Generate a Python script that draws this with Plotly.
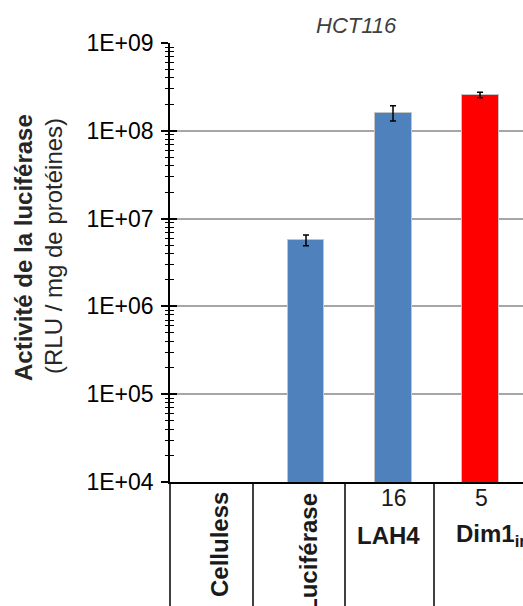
import plotly.graph_objects as go

# ---- data ----
categories = ["Celluless", "Luciférase", "LAH4", "Dim1<sub>in</sub>"]
values = [None, 5.7e6, 1.61e8, 2.56e8]
errors = [0, 0.8e6, 0.32e8, 0.18e8]
bar_colors = ["#4F81BD", "#4F81BD", "#4F81BD", "#FF0000"]
ratio_labels = ["", "", "16", "5"]
tick_vals = [1e4, 1e5, 1e6, 1e7, 1e8, 1e9]
tick_text = ["1E+04", "1E+05", "1E+06", "1E+07", "1E+08", "1E+09"]
minor_vals = [k * 10 ** e for e in range(4, 9) for k in range(2, 10)]

W, H = 523, 606
L, R, T, B = 170, 0, 43, 124
PW, PH = W - L - R, H - T - B
XR = [-0.563, 3.494]
FONT = "Liberation Sans, Arial, sans-serif"
TXT = "#1a1a1a"

def px2paper_x(px):
    return (px - L) / PW

def px2paper_y(py):
    return (H - B - py) / PH

xs = list(range(len(categories)))

fig = go.Figure()
fig.add_trace(go.Bar(
    x=xs, y=values, width=0.425,
    marker=dict(color=bar_colors, line=dict(color="#C4C4C4", width=1)),
    error_y=dict(type="data", array=errors, visible=True, color="black",
                 thickness=1.5, width=3),
    showlegend=False, hoverinfo="skip"))
# invisible traces for the overlay axes (tick marks crossing the axis line)
for ya in ["y2", "y3", "y4"]:
    fig.add_trace(go.Scatter(x=[0], y=[1e5], yaxis=ya, mode="markers",
                             marker=dict(opacity=0), showlegend=False, hoverinfo="skip"))

def overlay_axis(vals, side_ticks, length, width):
    return dict(type="log", range=[4, 9], tickmode="array", tickvals=vals,
                ticks=side_ticks, ticklen=length, tickwidth=width, tickcolor="black",
                overlaying="y", side="left", anchor="x",
                showticklabels=False, showgrid=False, showline=False, zeroline=False)

fig.update_layout(
    width=W, height=H, margin=dict(l=L, r=R, t=T, b=B),
    paper_bgcolor="white", plot_bgcolor="white",
    bargap=0,
    xaxis=dict(range=XR, showgrid=False, zeroline=False, showticklabels=False,
               ticks="", showline=True, linecolor="black", linewidth=1.5,
               fixedrange=True),
    yaxis=dict(type="log", range=[4, 9], tickmode="array", tickvals=tick_vals,
               ticktext=tick_text, ticks="outside", ticklen=7, tickwidth=1.5,
               tickcolor="black",
               showgrid=True, gridcolor="#A6A6A6", gridwidth=2,
               showline=True, linecolor="black", linewidth=1.5,
               tickfont=dict(family=FONT, size=23, color="black"),
               ticklabelstandoff=3),
    yaxis2=overlay_axis(tick_vals, "inside", 7, 1.5),
    yaxis3=overlay_axis(minor_vals, "outside", 4, 1),
    yaxis4=overlay_axis(minor_vals, "inside", 4, 1),
    font=dict(family=FONT),
)

def ann(**kw):
    base = dict(showarrow=False, xanchor="center", yanchor="middle")
    base.update(kw)
    fig.add_annotation(**base)

# title
ann(x=px2paper_x(356), y=px2paper_y(25), xref="paper", yref="paper",
    text="<i>HCT116</i>", font=dict(family=FONT, size=22, color="#404040"))
# y-axis titles
ann(x=px2paper_x(23), y=px2paper_y(248), xref="paper", yref="paper",
    text="<b>Activité de la luciférase</b>", textangle=-90,
    font=dict(family=FONT, size=24, color="#262626"))
ann(x=px2paper_x(53), y=px2paper_y(246), xref="paper", yref="paper",
    text="(RLU / mg de protéines)", textangle=-90,
    font=dict(family=FONT, size=24, color="#262626"))

# table lines below the axis
fig.add_shape(type="line", xref="paper", yref="paper",
              x0=px2paper_x(164), x1=0, y0=0, y1=0,
              line=dict(color="black", width=1.5))
for px in [170, 253, 345, 434]:
    fig.add_shape(type="line", xref="paper", yref="paper",
                  x0=px2paper_x(px), x1=px2paper_x(px), y0=0, y1=px2paper_y(H + 2),
                  line=dict(color="black", width=1.5))

# category labels
ann(x=xs[0], y=px2paper_y(544), xref="x", yref="paper",
    text="<b>" + categories[0] + "</b>", textangle=-90,
    font=dict(family=FONT, size=24, color=TXT))
ann(x=xs[1], y=px2paper_y(491), xref="x", yref="paper", xshift=2,
    text="<b>" + categories[1] + "</b>", textangle=-90, yanchor="top",
    font=dict(family=FONT, size=24, color=TXT))
ann(x=xs[2], y=px2paper_y(535), xref="x", yref="paper", xshift=-5,
    text="<b>" + categories[2] + "</b>",
    font=dict(family=FONT, size=24, color=TXT))
ann(x=xs[3], y=px2paper_y(535), xref="x", yref="paper", xshift=-26, xanchor="left",
    text="<b>" + categories[3] + "</b>",
    font=dict(family=FONT, size=24, color=TXT))
for i, lab in enumerate(ratio_labels):
    if lab:
        ann(x=xs[i], y=px2paper_y(498), xref="x", yref="paper",
            xshift=1, text=lab,
            font=dict(family=FONT, size=23, color=TXT))

fig.write_html("out.html", config={"displayModeBar": False},
               post_script="document.body.style.margin='0px';")
